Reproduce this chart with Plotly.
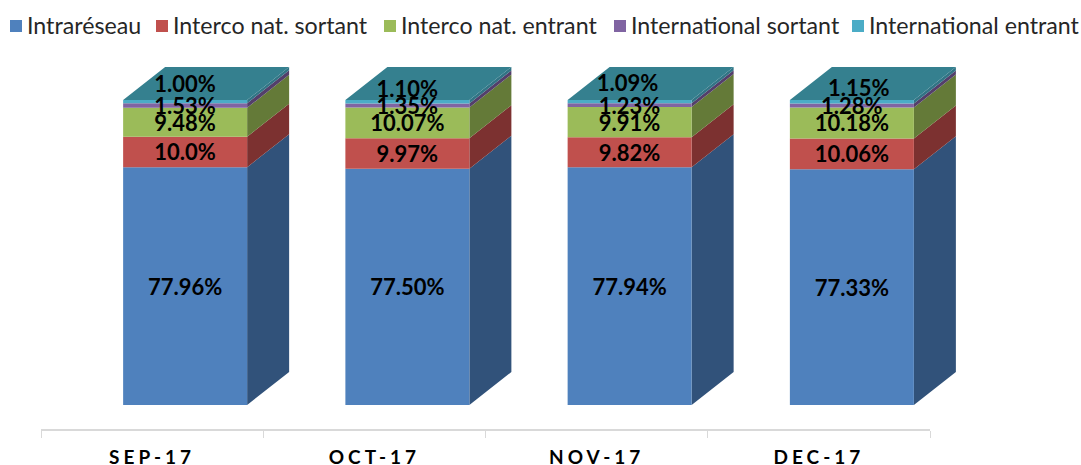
import plotly.graph_objects as go

months = ["SEP-17", "OCT-17", "NOV-17", "DEC-17"]
series_names = ["Intraréseau", "Interco nat. sortant", "Interco nat. entrant",
                "International sortant", "International entrant"]
intrareseau = [77.96, 77.50, 77.94, 77.33]
sortant_nat = [10.0, 9.97, 9.82, 10.06]
entrant_nat = [9.48, 10.07, 9.91, 10.18]
sortant_int = [1.53, 1.35, 1.23, 1.28]
entrant_int = [1.00, 1.10, 1.09, 1.15]
labels = [
    ["77.96%", "77.50%", "77.94%", "77.33%"],
    ["10.0%", "9.97%", "9.82%", "10.06%"],
    ["9.48%", "10.07%", "9.91%", "10.18%"],
    ["1.53%", "1.35%", "1.23%", "1.28%"],
    ["1.00%", "1.10%", "1.09%", "1.15%"],
]
values = [intrareseau, sortant_nat, entrant_nat, sortant_int, entrant_int]

front_colors = ["#4F81BD", "#C0504D", "#9BBB59", "#8064A2", "#4BACC6"]
side_colors = ["#31527A", "#7C3130", "#647A38", "#533F6B", "#317485"]
top_color = "#35808F"

W, H = 1081, 465
PX_L, PX_R, PX_AXIS, PX_BASE = 41, 930, 429, 405
PX_PER_CAT = (PX_R - PX_L) / 4
PX_PER_PCT = 3.05
bar_w = 124 / PX_PER_CAT
bar_shift = 33 / PX_PER_CAT
depth_x = 42 / PX_PER_CAT
depth_y = 33 / PX_PER_PCT
label_drop = 3 / PX_PER_PCT
top_nudge_x = [0, 0, -2 / PX_PER_CAT, 7 / PX_PER_CAT]
top_nudge_y = [0, -5 / PX_PER_PCT, 1 / PX_PER_PCT, -4 / PX_PER_PCT]

fig = go.Figure()
xs = list(range(len(months)))
centers = [x + bar_shift for x in xs]

bases = [[0.0] * 4]
for v in values:
    bases.append([b + a for b, a in zip(bases[-1], v)])

# side faces and top face live on a wide hidden axis spanning the full page
for i in range(5):
    px, py = [], []
    for k, c in enumerate(centers):
        r = c + bar_w / 2
        y0, y1 = bases[i][k], bases[i + 1][k]
        px += [r, r + depth_x, r + depth_x, r, r, None]
        py += [y0, y0 + depth_y, y1 + depth_y, y1, y0, None]
    fig.add_trace(go.Scatter(x=px, y=py, xaxis="x", mode="lines", fill="toself",
                             fillcolor=side_colors[i], line=dict(width=0),
                             hoverinfo="skip", showlegend=False))

px, py = [], []
for k, c in enumerate(centers):
    l, r, t = c - bar_w / 2, c + bar_w / 2, bases[5][k]
    px += [l, l + depth_x, r + depth_x, r, l, None]
    py += [t, t + depth_y, t + depth_y, t, t, None]
fig.add_trace(go.Scatter(x=px, y=py, xaxis="x", mode="lines", fill="toself", fillcolor=top_color,
                         line=dict(width=0), hoverinfo="skip", showlegend=False))

# front faces and data labels use the visible category axis
for i, v in enumerate(values):
    fig.add_trace(go.Bar(x=centers, y=v, base=bases[i], width=bar_w, name=series_names[i],
                         xaxis="x2", marker=dict(color=front_colors[i], line=dict(width=0)),
                         hoverinfo="skip", showlegend=False))

lx, ly, lt = [], [], []
for i in range(5):
    for k, c in enumerate(centers):
        if i == 4:
            lx.append(c + top_nudge_x[k])
            ly.append(bases[5][k] + depth_y / 2 + top_nudge_y[k] - label_drop)
        else:
            lx.append(c)
            ly.append((bases[i][k] + bases[i + 1][k]) / 2 - label_drop)
        lt.append(labels[i][k])
fig.add_trace(go.Scatter(x=lx, y=ly, text=lt, xaxis="x2", mode="text",
                         textposition="middle center",
                         textfont=dict(family="Lato", size=22, color="#000000", weight="bold"),
                         cliponaxis=False, hoverinfo="skip", showlegend=False))

# legend row
swatch_px = [10, 156, 384, 614, 852]
annotations, shapes = [], []
for name, color, sx in zip(series_names, front_colors, swatch_px):
    shapes.append(dict(type="rect", xref="paper", yref="paper",
                       x0=sx / W, x1=(sx + 12) / W,
                       y0=(PX_AXIS - 32) / PX_AXIS, y1=(PX_AXIS - 20) / PX_AXIS,
                       fillcolor=color, line=dict(width=0)))
    annotations.append(dict(xref="paper", yref="paper", x=(sx + 15) / W,
                            y=(PX_AXIS - 25) / PX_AXIS,
                            text=name, showarrow=False, xanchor="left", yanchor="middle",
                            font=dict(family="Lato", size=23.2, color="#262626")))

fig.update_layout(
    width=W, height=H, autosize=False, barmode="overlay",
    paper_bgcolor="white", plot_bgcolor="rgba(0,0,0,0)",
    margin=dict(l=0, r=0, t=0, b=H - PX_AXIS, pad=0, autoexpand=False),
    shapes=shapes, annotations=annotations, showlegend=False,
    xaxis2=dict(domain=[PX_L / W, PX_R / W], range=[-0.5, 3.5], anchor="y", automargin=False,
                tickmode="array", tickvals=xs, ticktext=months, ticks="", ticklabelstandoff=10,
                showgrid=False, zeroline=False, showline=True, linecolor="#D9D9D9", linewidth=2,
                tickfont=dict(family="Lato", size=19, color="#000000", weight="bold"),
                minor=dict(tickmode="array", tickvals=[-0.5, 0.5, 1.5, 2.5, 3.5], ticks="outside",
                           ticklen=7, tickwidth=1, tickcolor="#D9D9D9", showgrid=False)),
    xaxis=dict(domain=[0, 1], anchor="y", visible=False,
               range=[-0.5 - PX_L / PX_PER_CAT, 3.5 + (W - PX_R) / PX_PER_CAT]),
    yaxis=dict(range=[-(PX_AXIS - PX_BASE) / PX_PER_PCT, PX_BASE / PX_PER_PCT], visible=False,
               automargin=False),
)

post = ("var s=document.createElement('style');"
        "s.textContent='body{margin:0;overflow:hidden}.x2tick text{letter-spacing:4px}';"
        "document.head.appendChild(s);")
fig.write_html("out.html", post_script=post, config=dict(displayModeBar=False))
